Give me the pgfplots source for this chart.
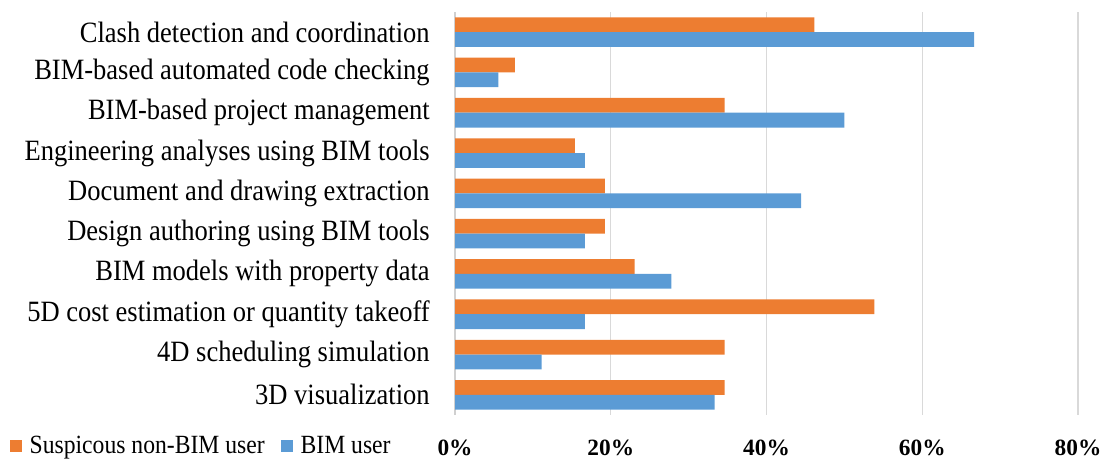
\documentclass[border=0pt]{standalone}
\usepackage{pgfplots}
\pgfplotsset{compat=1.18}
\usepackage{fontspec}
\setmainfont{Liberation Serif}
\newfontfamily\catfont[FakeStretch=0.9]{Liberation Serif}
\definecolor{orangebar}{HTML}{ED7D31}
\definecolor{bluebar}{HTML}{5B9BD5}
\definecolor{gridgray}{HTML}{D9D9D9}
\definecolor{axgray}{HTML}{D0D0D0}
\begin{document}
\begin{tikzpicture}
\path[use as bounding box] (0pt,0pt) rectangle (828.75pt,344.25pt);
\begin{axis}[
  at={(341.25pt,33pt)}, anchor=south west,
  scale only axis,
  width=467.25pt, height=302.25pt,
  xmin=0, xmax=80, ymin=-0.5, ymax=9.5,
  axis lines*=left,
  x axis line style={draw=none},
  y axis line style={draw=axgray, line width=1pt},
  xtick={0,20,40,60,80},
  xtick style={draw=none},
  xmajorgrids,
  major grid style={draw=gridgray, line width=1.1pt},
  /pgf/number format/assume math mode=true,
  xticklabel={\pgfmathprintnumber{\tick}\%},
  xticklabel style={font=\fontsize{17.5}{18}\selectfont\bfseries, anchor=north, inner sep=0pt, yshift=-18.5pt},
  ytick={0,...,9},
  yticklabels={3D visualization,4D scheduling simulation,5D cost estimation or quantity takeoff,BIM models with property data,Design authoring using BIM tools,Document and drawing extraction,Engineering analyses using BIM tools,BIM-based project management,BIM-based automated code checking,Clash detection and coordination},
  yticklabel style={font=\catfont\fontsize{22.1}{24}\selectfont, anchor=east, inner sep=0pt, xshift=-14.5pt},
  ytick style={draw=none},
  extra y ticks={-0.5,0.5,1.5,2.5,3.5,4.5,5.5,6.5,7.5,8.5,9.5},
  extra y tick labels={},
  extra y tick style={tick align=outside, major tick length=6pt, tick style={draw=axgray, line width=1pt}},
  xbar, bar width=0.367,
  legend columns=2,
  legend style={at={(-0.715,-0.077)}, anchor=west, draw=none, fill=none, inner sep=0pt,
    font=\catfont\fontsize{19.7}{22}\selectfont,
    /tikz/every odd column/.append style={column sep=3.5pt},
    /tikz/every even column/.append style={column sep=10pt}},
  legend image code/.code={\fill[#1] (0pt,-4.7pt) rectangle (9.4pt,4.7pt);},
]
\addplot[fill=orangebar, draw=none, bar shift=0.1835] coordinates {
  (34.62,0) (34.62,1) (53.85,2) (23.08,3) (19.23,4) (19.23,5) (15.38,6) (34.62,7) (7.69,8) (46.15,9)};
\addlegendentry{Suspicous non-BIM user}
\addplot[fill=bluebar, draw=none, bar shift=-0.1835] coordinates {
  (33.33,0) (11.11,1) (16.67,2) (27.78,3) (16.67,4) (44.44,5) (16.67,6) (50.00,7) (5.56,8) (66.67,9)};
\addlegendentry{BIM user}
\end{axis}
\end{tikzpicture}
\end{document}
